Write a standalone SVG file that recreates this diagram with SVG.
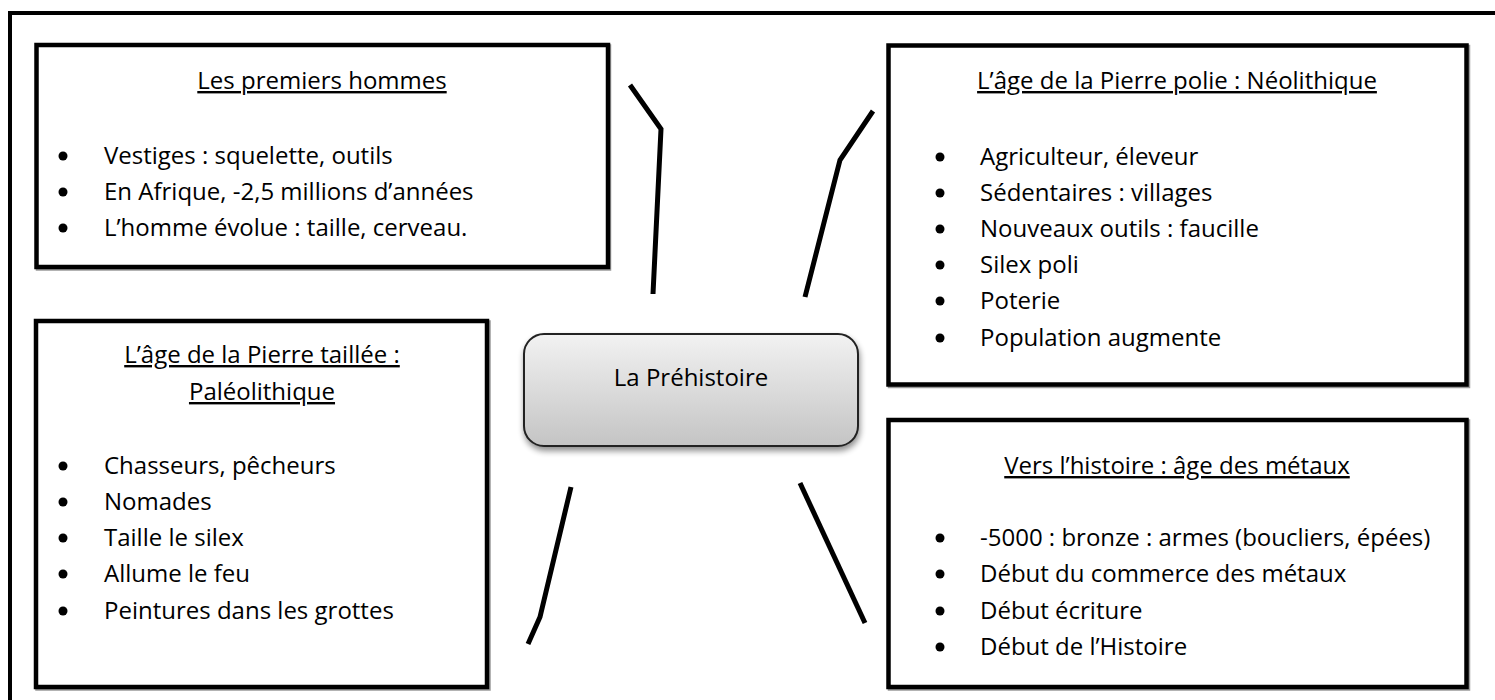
<svg xmlns="http://www.w3.org/2000/svg" width="1495" height="700" viewBox="0 0 1495 700">
<defs>
<linearGradient id="g" x1="0" y1="0" x2="0" y2="1">
<stop offset="0" stop-color="#f2f2f2"/>
<stop offset="1" stop-color="#c4c4c4"/>
</linearGradient>
<filter id="sh" x="-10%" y="-10%" width="130%" height="140%">
<feGaussianBlur in="SourceAlpha" stdDeviation="3"/>
<feOffset dx="1" dy="4" result="b"/>
<feComponentTransfer><feFuncA type="linear" slope="0.45"/></feComponentTransfer>
<feMerge><feMergeNode/><feMergeNode in="SourceGraphic"/></feMerge>
</filter>
</defs>
<style>
.box{fill:#fff;stroke:#000;stroke-width:4.5}
.shd{fill:none;stroke:#9a9a9a;stroke-width:4.5}
text{font-family:"Open Sans","Liberation Sans",sans-serif;font-size:24px;fill:#000}
.t{text-anchor:middle;text-decoration:underline}
.c{fill:none;stroke:#000;stroke-width:5;stroke-linejoin:miter}
</style>
<path d="M10,700 V13 H1495" fill="none" stroke="#000" stroke-width="4"/>

<g id="n1">
<rect class="shd" x="38" y="46.5" width="571" height="222"/>
<rect class="box" x="36.5" y="45" width="571.5" height="222"/>
<text class="t" x="322" y="89">Les premiers hommes</text>
<circle cx="63" cy="156" r="4.5"/><text x="104" y="164">Vestiges : squelette, outils</text>
<circle cx="63" cy="192" r="4.5"/><text x="104" y="200">En Afrique, -2,5 millions d’années</text>
<circle cx="63" cy="228" r="4.5"/><text x="104" y="236">L’homme évolue : taille, cerveau.</text>
</g>

<g id="n2">
<rect class="shd" x="890" y="47" width="578" height="339"/>
<rect class="box" x="888.5" y="45.5" width="578" height="339"/>
<text class="t" x="1177" y="89">L’âge de la Pierre polie : Néolithique</text>
<circle cx="940" cy="157" r="4.5"/><text x="980" y="165">Agriculteur, éleveur</text>
<circle cx="940" cy="193" r="4.5"/><text x="980" y="201">Sédentaires : villages</text>
<circle cx="940" cy="229" r="4.5"/><text x="980" y="237">Nouveaux outils : faucille</text>
<circle cx="940" cy="265" r="4.5"/><text x="980" y="273">Silex poli</text>
<circle cx="940" cy="301" r="4.5"/><text x="980" y="309">Poterie</text>
<circle cx="940" cy="338" r="4.5"/><text x="980" y="346">Population augmente</text>
</g>

<g id="n3">
<rect class="shd" x="37.5" y="322.5" width="451" height="366"/>
<rect class="box" x="36" y="321" width="451" height="366"/>
<text class="t" x="262" y="363">L’âge de la Pierre taillée :</text>
<text class="t" x="262" y="400">Paléolithique</text>
<circle cx="63" cy="466" r="4.5"/><text x="104" y="474">Chasseurs, pêcheurs</text>
<circle cx="63" cy="502" r="4.5"/><text x="104" y="510">Nomades</text>
<circle cx="63" cy="538" r="4.5"/><text x="104" y="546">Taille le silex</text>
<circle cx="63" cy="574" r="4.5"/><text x="104" y="582">Allume le feu</text>
<circle cx="63" cy="611" r="4.5"/><text x="104" y="619">Peintures dans les grottes</text>
</g>

<g id="n4">
<rect class="shd" x="890" y="421.5" width="578" height="267"/>
<rect class="box" x="888.5" y="420" width="578" height="267"/>
<text class="t" x="1177" y="474">Vers l’histoire : âge des métaux</text>
<circle cx="940" cy="538" r="4.5"/><text x="980" y="546">-5000 : bronze : armes (boucliers, épées)</text>
<circle cx="940" cy="574" r="4.5"/><text x="980" y="582">Début du commerce des métaux</text>
<circle cx="940" cy="611" r="4.5"/><text x="980" y="619">Début écriture</text>
<circle cx="940" cy="647" r="4.5"/><text x="980" y="655">Début de l’Histoire</text>
</g>

<g id="center">
<rect x="524" y="334" width="334" height="112" rx="20" fill="url(#g)" stroke="#222" stroke-width="2" filter="url(#sh)"/>
<text x="691" y="386" text-anchor="middle" font-size="25.5">La Préhistoire</text>
</g>

<g id="connectors">
<polyline class="c" points="630,85 661,129 653,294"/>
<polyline class="c" points="873,111 840,160 805,297"/>
<polyline class="c" points="571,487 540,617 528,644"/>
<polyline class="c" points="800,483 865,623"/>
</g>
</svg>
